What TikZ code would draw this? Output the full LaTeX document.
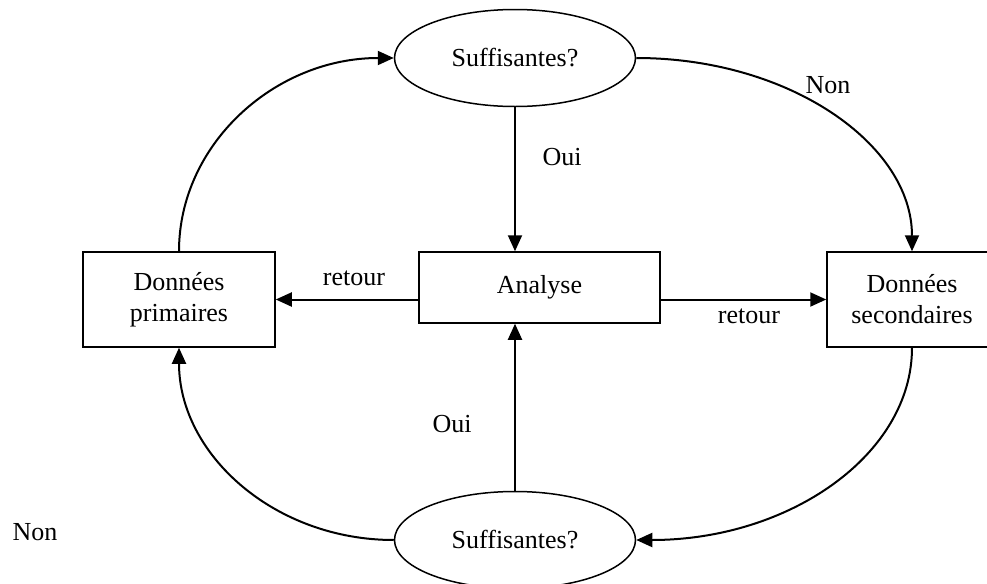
\documentclass[tikz,border=0pt]{standalone}
\usepackage{fontspec}
\setmainfont{Liberation Serif}
\usetikzlibrary{shapes.geometric,arrows.meta}
\begin{document}
\begin{tikzpicture}[x=0.5pt,y=-0.5pt,
  font=\fontsize{13}{15.5}\selectfont,
  boxnode/.style={draw,line width=0.75pt,rectangle,align=center,inner sep=0pt},
  ellnode/.style={draw,line width=0.75pt,ellipse,inner sep=0pt,minimum width=120.5pt,minimum height=48.5pt},
  conn/.style={line width=1pt,-{Triangle[length=8pt,width=7pt]}},
  lbl/.style={anchor=base,inner sep=0pt}]
\useasboundingbox (0,0) rectangle (987,584);
\node[ellnode] (top) at (515,58) {Suffisantes?};
\node[ellnode] (bot) at (515,540) {Suffisantes?};
\node[boxnode,minimum width=120.5pt,minimum height=35.5pt] (ana) at (539.5,287.5) {Analyse};
\node[boxnode,minimum width=96pt,minimum height=47.5pt] (lb) at (179,299.5) {Données\\primaires};
\node[boxnode,minimum width=85pt,minimum height=47.5pt] (rb) at (912,299.5) {Données\\secondaires};
\draw[conn] (top.south) -- (top.south |- ana.north);
\draw[conn] (bot.north) -- (bot.north |- ana.south);
\draw[conn] (ana.west |- lb.east) -- (lb.east);
\draw[conn] (ana.east |- rb.west) -- (rb.west);
\draw[conn] (lb.north) .. controls +(0,-107) and +(-119,0) .. (top.west);
\draw[conn] (top.east) .. controls +(153,0) and +(0,-107) .. (rb.north);
\draw[conn] (rb.south) .. controls +(0,107) and +(153,0) .. (bot.east);
\draw[conn] (bot.west) .. controls +(-119,0) and +(0,107) .. (lb.south);
\node[lbl] (non1) at (828,93) {Non};
\node[lbl] (oui1) at (562,165) {Oui};
\node[lbl] (ret1) at (354,285) {retour};
\node[lbl] (ret2) at (749,323) {retour};
\node[lbl] (oui2) at (452,432) {Oui};
\node[lbl] (non2) at (35,540) {Non};
\end{tikzpicture}
\end{document}
